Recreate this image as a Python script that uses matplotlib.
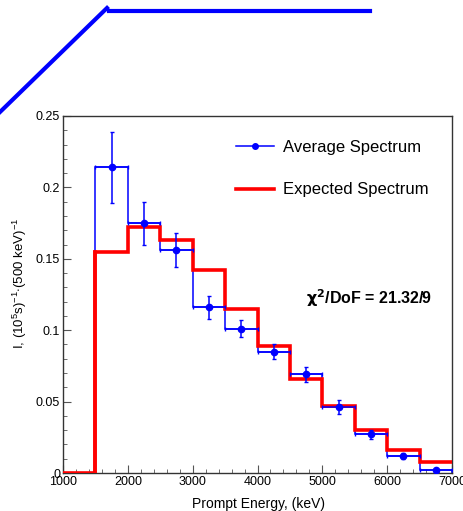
import matplotlib
matplotlib.use("Agg")
import matplotlib.pyplot as plt
from matplotlib.lines import Line2D
from matplotlib.ticker import MultipleLocator

plt.rcParams['font.family'] = ['Liberation Sans', 'DejaVu Sans']
plt.rcParams['mathtext.fontset'] = 'custom'
plt.rcParams['mathtext.rm'] = 'Liberation Sans'

# bin edges (keV)
edges = [1000, 1500, 2000, 2500, 3000, 3500, 4000, 4500, 5000, 5500, 6000, 6500, 7000]

# measured spectrum, bins 1500..7000
avg_centers = [1750, 2250, 2750, 3250, 3750, 4250, 4750, 5250, 5750, 6250, 6750]
avg_values = [0.214, 0.175, 0.156, 0.116, 0.101, 0.085, 0.069, 0.046, 0.027, 0.012, 0.002]
avg_errors = [0.025, 0.015, 0.012, 0.008, 0.006, 0.005, 0.005, 0.005, 0.003, 0.002, 0.001]

# expected spectrum, bins 1000..7000
exp_values = [0.0, 0.155, 0.172, 0.163, 0.142, 0.115, 0.089, 0.066, 0.047, 0.030, 0.016, 0.008]

chi2_text = r'$\mathbf{\chi^{2}}$/DoF = 21.32/9'

# stray blue stroke above the pad (figure pixels, y from top)
stroke_a = [(0, 112), (107, 8)]
stroke_b = [(109, 11), (370, 11)]

W, H = 464, 511
fig = plt.figure(figsize=(W / 100, H / 100), dpi=100)
ax = fig.add_axes([63 / W, 1 - 473 / H, (452 - 63) / W, (473 - 116) / H])

blue = '#0000ff'
red = '#ff0000'

# expected histogram
ax.stairs(exp_values, edges, color=red, linewidth=2.6, zorder=3, baseline=None)
ax.plot([1500, 1500], [0, exp_values[1]], color=red, linewidth=2.6, zorder=3)

# measured histogram outline + error bars
avg_edges = edges[1:]
ax.stairs(avg_values, avg_edges, color=blue, linewidth=1.1, zorder=2, baseline=0)
ax.errorbar(avg_centers, avg_values, yerr=avg_errors, xerr=250, fmt='o',
            color=blue, markersize=4.5, elinewidth=1.1, capsize=1.5, zorder=4)

ax.set_xlim(1000, 7000)
ax.set_ylim(0, 0.25)
ax.xaxis.set_major_locator(MultipleLocator(1000))
ax.xaxis.set_minor_locator(MultipleLocator(200))
ax.yaxis.set_minor_locator(MultipleLocator(0.01))
ax.set_yticks([0, 0.05, 0.1, 0.15, 0.2, 0.25])
ax.set_yticklabels(['0', '0.05', '0.1', '0.15', '0.2', '0.25'])
ax.tick_params(which='both', direction='in', top=False, right=False,
               labelsize=9, colors='#555555', labelcolor='black')
ax.tick_params(which='major', length=6, pad=2)
ax.tick_params(which='minor', length=3)
for s in ax.spines.values():
    s.set_color('#333333')
    s.set_linewidth(1.0)

ax.set_xlabel('Prompt Energy, (keV)', fontsize=10)
ax.xaxis.set_label_coords((325 - 63) / (452 - 63), -(497 - 473) / (473 - 116))
ax.xaxis.label.set_horizontalalignment('right')
ax.set_ylabel(r'I, (10$^{5}$s)$^{-1}$$\cdot$(500 keV)$^{-1}$', fontsize=9.5)
ax.yaxis.set_label_coords(-(63 - 29) / (452 - 63), 0.53)

handles = [Line2D([], [], color=blue, marker='o', markersize=4, linewidth=1.1),
           Line2D([], [], color=red, linewidth=2.6)]
ax.legend(handles, ['Average Spectrum', 'Expected Spectrum'], loc='upper left',
          bbox_to_anchor=(0.406, 0.975), frameon=False, fontsize=12,
          handlelength=2.3, handletextpad=0.5, labelspacing=1.65)

ax.text(0.625, 0.49, chi2_text, transform=ax.transAxes, fontsize=11.5,
        fontweight='bold', ha='left', va='center')

for pts in (stroke_a, stroke_b):
    xs = [p[0] / W for p in pts]
    ys = [1 - p[1] / H for p in pts]
    fig.add_artist(Line2D(xs, ys, color=blue, linewidth=3, transform=fig.transFigure))

fig.savefig('out.png', dpi=100)
